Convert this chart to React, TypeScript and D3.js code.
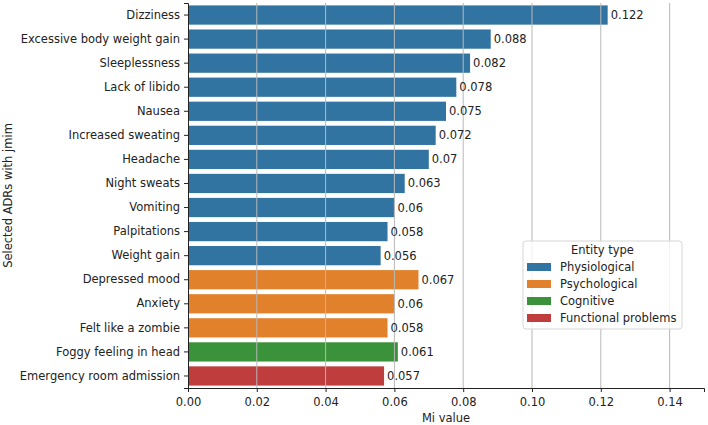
import { useRef, useEffect } from "react";
import * as d3 from "d3";

const adrs = [
  "Dizziness", "Excessive body weight gain", "Sleeplessness", "Lack of libido", "Nausea",
  "Increased sweating", "Headache", "Night sweats", "Vomiting", "Palpitations", "Weight gain",
  "Depressed mood", "Anxiety", "Felt like a zombie", "Foggy feeling in head", "Emergency room admission",
];
const miValues = [0.122, 0.088, 0.082, 0.078, 0.075, 0.072, 0.07, 0.063, 0.06, 0.058, 0.056, 0.067, 0.06, 0.058, 0.061, 0.057];
const entityTypes = [
  "Physiological", "Physiological", "Physiological", "Physiological", "Physiological",
  "Physiological", "Physiological", "Physiological", "Physiological", "Physiological", "Physiological",
  "Psychological", "Psychological", "Psychological", "Cognitive", "Functional problems",
];
const typeNames = ["Physiological", "Psychological", "Cognitive", "Functional problems"];
const typeColors = ["#3274a1", "#e1812c", "#3a923a", "#c03d3e"];
const xTicks = [0, 0.02, 0.04, 0.06, 0.08, 0.1, 0.12, 0.14];

const W = 708, H = 425;
const FONT = "DejaVu Sans, sans-serif";
const FS = 11.5;

export default function App() {
  const svgRef = useRef<SVGSVGElement>(null);

  useEffect(() => {
    if (!svgRef.current) return;
    const svg = d3.select(svgRef.current);
    svg.selectAll("*").remove();

    const margin = { top: 3, left: 188 };
    const plotW = 516;
    const plotH = 385;

    const g = svg.append("g").attr("transform", `translate(${margin.left},${margin.top})`);

    const x = d3.scaleLinear().domain([0, 0.15]).range([0, plotW]);
    const y = d3.scaleBand<string>().domain(adrs).range([0, plotH]).paddingInner(0.2).paddingOuter(0.1);
    const color = d3.scaleOrdinal<string, string>().domain(typeNames).range(typeColors);

    // bars
    g.selectAll("rect.bar").data(adrs).enter().append("rect")
      .attr("class", "bar")
      .attr("x", 0).attr("y", d => y(d)!)
      .attr("width", (_, i) => x(miValues[i])).attr("height", y.bandwidth())
      .attr("fill", (_, i) => color(entityTypes[i]));

    // grid sits over the bars, like in the original
    g.selectAll("line.grid").data(xTicks.slice(1)).enter().append("line")
      .attr("x1", d => x(d)).attr("x2", d => x(d)).attr("y1", 0).attr("y2", plotH)
      .attr("stroke", "#b8b8b8").attr("stroke-width", 1);

    // value labels
    g.selectAll("text.val").data(adrs).enter().append("text")
      .attr("x", (_, i) => x(miValues[i]) + 3).attr("y", d => y(d)! + y.bandwidth() / 2)
      .attr("dy", "0.35em").attr("font-family", FONT).attr("font-size", FS).attr("fill", "#222")
      .text((_, i) => String(miValues[i]));

    // axes
    g.append("g").attr("transform", `translate(0,${plotH})`)
      .call(d3.axisBottom(x).tickValues(xTicks).tickFormat(d3.format(".2f")).tickSizeOuter(0).tickSize(4).tickPadding(6))
      .call(a => {
        a.select(".domain").attr("stroke", "#222").attr("stroke-width", 1);
        a.selectAll("line").attr("stroke", "#222");
        a.selectAll("text").attr("font-family", FONT).attr("font-size", FS).attr("fill", "#222");
      });
    g.append("g")
      .call(d3.axisLeft(y).tickSizeOuter(0).tickSize(4).tickPadding(4))
      .call(a => {
        a.select(".domain").attr("stroke", "#222").attr("stroke-width", 1);
        a.selectAll("line").attr("stroke", "#222");
        a.selectAll("text").attr("font-family", FONT).attr("font-size", FS).attr("fill", "#222");
      });

    // axis titles
    svg.append("text").attr("x", margin.left + x(0.075)).attr("y", 421.5)
      .attr("text-anchor", "middle").attr("font-family", FONT).attr("font-size", FS).attr("fill", "#222")
      .text("Mi value");
    svg.append("text").attr("transform", `translate(12,${margin.top + plotH / 2}) rotate(-90)`)
      .attr("text-anchor", "middle").attr("font-family", FONT).attr("font-size", FS).attr("fill", "#222")
      .text("Selected ADRs with jmim");

    // legend
    const lg = svg.append("g").attr("transform", "translate(523,241)");
    lg.append("rect").attr("width", 159).attr("height", 88).attr("rx", 3)
      .attr("fill", "white").attr("fill-opacity", 0.8).attr("stroke", "#d6d6d6");
    lg.append("text").attr("x", 79.5).attr("y", 9).attr("dy", "0.35em").attr("text-anchor", "middle")
      .attr("font-family", FONT).attr("font-size", FS).attr("fill", "#222").text("Entity type");
    typeNames.forEach((t, i) => {
      const row = lg.append("g").attr("transform", `translate(4,${22 + i * 17})`);
      row.append("rect").attr("width", 24).attr("height", 8).attr("fill", typeColors[i]);
      row.append("text").attr("x", 33).attr("y", 4).attr("dy", "0.35em")
        .attr("font-family", FONT).attr("font-size", FS).attr("fill", "#222").text(t);
    });
  }, []);

  return (
    <svg ref={svgRef} width={W} height={H} style={{ position: "absolute", left: 0, top: 0, background: "white" }} />
  );
}
